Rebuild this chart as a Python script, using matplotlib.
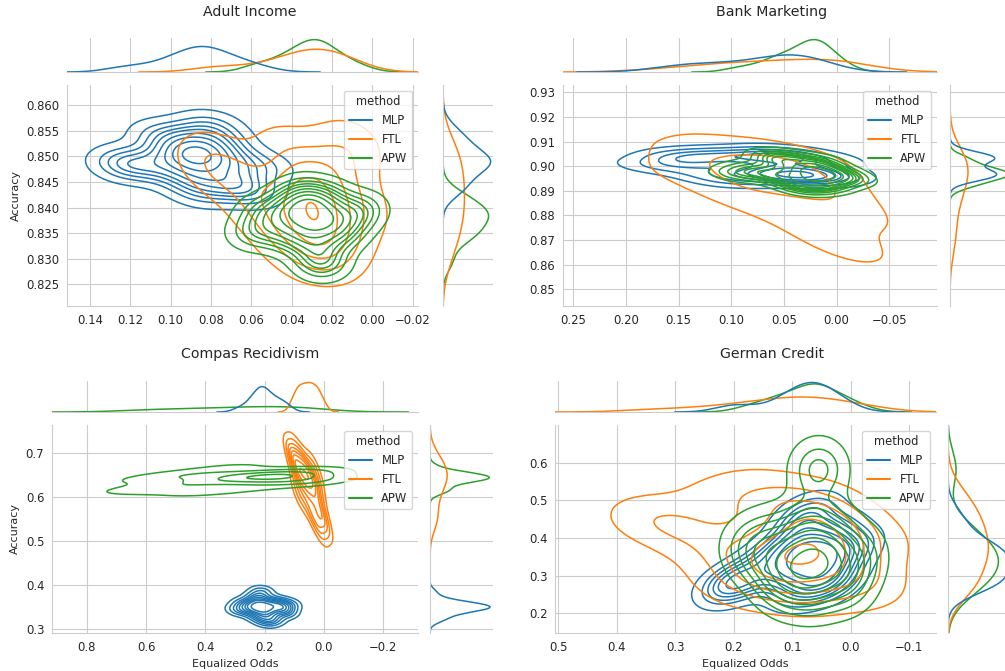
import numpy as np
import pandas as pd
import matplotlib
matplotlib.use("Agg")
import matplotlib.pyplot as plt
import seaborn as sns

methods = ["MLP", "FTL", "APW"]
colors = ["#1f77b4", "#ff7f0e", "#2ca02c"]

# (equalized odds, accuracy) per run
adult_mlp = [(0.085, 0.850), (0.088, 0.852), (0.080, 0.848), (0.092, 0.849), (0.078, 0.851), (0.083, 0.846),
             (0.090, 0.854), (0.075, 0.853), (0.070, 0.849), (0.095, 0.851), (0.100, 0.850), (0.065, 0.845),
             (0.060, 0.843), (0.110, 0.848), (0.120, 0.849), (0.125, 0.848), (0.105, 0.854), (0.080, 0.856),
             (0.072, 0.844), (0.086, 0.843), (0.055, 0.848), (0.095, 0.846)]
adult_ftl = [(0.082, 0.850), (0.078, 0.848), (0.065, 0.846), (0.060, 0.842), (0.050, 0.838), (0.045, 0.835),
             (0.040, 0.843), (0.035, 0.845), (0.033, 0.840), (0.030, 0.836), (0.028, 0.842), (0.025, 0.833),
             (0.022, 0.838), (0.020, 0.830), (0.018, 0.845), (0.015, 0.850), (0.010, 0.853), (0.005, 0.840),
             (0.035, 0.830), (0.045, 0.852), (0.030, 0.848), (0.015, 0.835)]
adult_apw = [(0.030, 0.838), (0.035, 0.839), (0.025, 0.837), (0.040, 0.838), (0.020, 0.839), (0.028, 0.841),
             (0.032, 0.835), (0.045, 0.840), (0.015, 0.836), (0.038, 0.842), (0.022, 0.842), (0.050, 0.836),
             (0.010, 0.838), (0.027, 0.830), (0.024, 0.829), (0.042, 0.834), (0.018, 0.834), (0.055, 0.839),
             (0.005, 0.840), (0.033, 0.843), (0.030, 0.833), (0.060, 0.835)]

bank_mlp = [(0.140, 0.903), (0.135, 0.904), (0.150, 0.902), (0.170, 0.900), (0.120, 0.897), (0.110, 0.905),
            (0.100, 0.894), (0.090, 0.903), (0.080, 0.897), (0.070, 0.904), (0.060, 0.896), (0.055, 0.899),
            (0.050, 0.903), (0.045, 0.895), (0.040, 0.897), (0.035, 0.904), (0.030, 0.896), (0.025, 0.898),
            (0.020, 0.895), (0.015, 0.902), (0.010, 0.897), (0.060, 0.906)]
bank_ftl = [(0.150, 0.905), (0.130, 0.900), (0.120, 0.908), (0.100, 0.895), (0.090, 0.902), (0.080, 0.890),
            (0.070, 0.899), (0.060, 0.905), (0.050, 0.893), (0.040, 0.900), (0.030, 0.888), (0.020, 0.897),
            (0.010, 0.892), (0.000, 0.902), (0.010, 0.873), (0.000, 0.870), (-0.020, 0.865), (-0.030, 0.878),
            (0.050, 0.880), (0.110, 0.888), (0.180, 0.898), (-0.010, 0.885)]
bank_apw = [(0.020, 0.897), (0.025, 0.898), (0.015, 0.896), (0.030, 0.899), (0.018, 0.900), (0.022, 0.894),
            (0.050, 0.897), (0.010, 0.898), (0.055, 0.901), (0.035, 0.895), (0.045, 0.903), (0.005, 0.894),
            (0.065, 0.896), (0.080, 0.899), (0.000, 0.897), (0.040, 0.893), (0.095, 0.897), (0.020, 0.902),
            (0.028, 0.891), (-0.010, 0.895), (0.060, 0.904), (0.012, 0.892)]

compas_mlp = [(0.21, 0.350), (0.22, 0.352), (0.20, 0.348), (0.23, 0.358), (0.19, 0.343), (0.24, 0.350),
              (0.18, 0.356), (0.25, 0.342), (0.21, 0.365), (0.20, 0.336), (0.15, 0.352), (0.14, 0.346),
              (0.16, 0.362), (0.13, 0.338), (0.27, 0.358), (0.22, 0.328), (0.23, 0.372), (0.17, 0.325),
              (0.29, 0.345), (0.12, 0.356), (0.21, 0.385), (0.19, 0.318)]
compas_ftl = [(0.065, 0.650), (0.080, 0.655), (0.050, 0.645), (0.090, 0.665), (0.040, 0.640), (0.100, 0.685),
              (0.060, 0.630), (0.105, 0.690), (0.030, 0.660), (0.080, 0.630), (0.070, 0.675), (0.045, 0.610),
              (0.085, 0.610), (0.020, 0.590), (0.050, 0.580), (0.010, 0.560), (0.030, 0.550), (0.000, 0.545),
              (0.015, 0.535), (0.055, 0.665), (0.025, 0.625), (0.090, 0.700)]
compas_apw = [(0.60, 0.640), (0.55, 0.620), (0.50, 0.650), (0.45, 0.630), (0.40, 0.655), (0.35, 0.640),
              (0.30, 0.645), (0.25, 0.650), (0.22, 0.642), (0.20, 0.652), (0.18, 0.638), (0.15, 0.645),
              (0.12, 0.650), (0.10, 0.640), (0.08, 0.660), (0.06, 0.632), (0.04, 0.655), (0.02, 0.640),
              (0.65, 0.615), (0.30, 0.670), (0.28, 0.618), (0.45, 0.608)]

german_mlp = [(0.07, 0.36), (0.06, 0.38), (0.08, 0.34), (0.05, 0.33), (0.09, 0.40), (0.04, 0.36),
              (0.10, 0.32), (0.03, 0.42), (0.06, 0.30), (0.11, 0.37), (0.02, 0.34), (0.08, 0.44),
              (0.12, 0.30), (0.05, 0.27), (0.14, 0.35), (0.00, 0.38), (0.20, 0.28), (0.21, 0.27),
              (0.18, 0.30), (0.07, 0.47), (0.03, 0.29), (0.09, 0.26)]
german_ftl = [(0.35, 0.45), (0.30, 0.44), (0.22, 0.50), (0.15, 0.53), (0.05, 0.50), (0.10, 0.42),
              (0.08, 0.35), (0.12, 0.30), (0.05, 0.28), (0.00, 0.33), (-0.03, 0.40), (0.15, 0.38),
              (0.18, 0.32), (0.02, 0.45), (0.06, 0.40), (0.10, 0.25), (-0.02, 0.27), (0.20, 0.27),
              (0.04, 0.36), (0.09, 0.47), (0.25, 0.38), (0.13, 0.35)]
german_apw = [(0.06, 0.34), (0.08, 0.36), (0.04, 0.32), (0.10, 0.38), (0.02, 0.35), (0.12, 0.33),
              (0.07, 0.30), (0.05, 0.40), (0.09, 0.28), (0.14, 0.41), (0.00, 0.30), (0.03, 0.42),
              (0.11, 0.27), (-0.02, 0.36), (0.16, 0.35), (0.06, 0.25), (0.08, 0.44), (0.13, 0.30),
              (0.05, 0.58), (0.06, 0.585), (0.18, 0.38), (0.01, 0.27)]

titles = ["Adult Income", "Bank Marketing", "Compas Recidivism", "German Credit"]
adult_xticks = [0.14, 0.12, 0.10, 0.08, 0.06, 0.04, 0.02, 0.00, -0.02]
adult_yticks = [0.825, 0.830, 0.835, 0.840, 0.845, 0.850, 0.855, 0.860]
bank_xticks = [0.25, 0.20, 0.15, 0.10, 0.05, 0.00, -0.05]
bank_yticks = [0.85, 0.86, 0.87, 0.88, 0.89, 0.90, 0.91, 0.92, 0.93]
compas_xticks = [0.8, 0.6, 0.4, 0.2, 0.0, -0.2]
compas_yticks = [0.3, 0.4, 0.5, 0.6, 0.7]
german_xticks = [0.5, 0.4, 0.3, 0.2, 0.1, 0.0, -0.1]
german_yticks = [0.2, 0.3, 0.4, 0.5, 0.6]

W, H = 1005, 671


def box(x0, y0, x1, y1):
    return [x0 / W, 1 - y1 / H, (x1 - x0) / W, (y1 - y0) / H]


def make_frame(groups):
    rows = []
    for m, pts in zip(methods, groups):
        for x, y in pts:
            rows.append((x, y, m))
    return pd.DataFrame(rows, columns=["eo", "acc", "method"])


sns.set_style("whitegrid")
plt.rcParams["font.family"] = ["DejaVu Sans"]
plt.rcParams["xtick.labelsize"] = 8.4
plt.rcParams["ytick.labelsize"] = 8.4
plt.rcParams["axes.labelsize"] = 8

fig = plt.figure(figsize=(W / 100, H / 100), dpi=100)

panels = [
    (titles[0], [adult_mlp, adult_ftl, adult_apw], (0.1514, -0.0226), (0.8208, 0.8639),
     adult_xticks, adult_yticks, (67, 38, 418, 72), (67, 85, 418, 306), (443, 85, 493, 306), 250, 12, False, True),
    (titles[1], [bank_mlp, bank_ftl, bank_apw], (0.2598, -0.0953), (0.8432, 0.933),
     bank_xticks, bank_yticks, (563, 38, 937, 72), (563, 85, 937, 306), (950, 85, 1012, 306), 772, 12, False, False),
    (titles[2], [compas_mlp, compas_ftl, compas_apw], (0.917, -0.317), (0.2916, 0.764),
     compas_xticks, compas_yticks, (52, 381, 418, 412), (52, 425, 418, 633), (430, 425, 493, 633), 250, 354, True, True),
    (titles[3], [german_mlp, german_ftl, german_apw], (0.5057, -0.1456), (0.1478, 0.70),
     german_xticks, german_yticks, (555, 381, 936, 412), (555, 425, 936, 633), (948, 425, 1012, 633), 772, 354, True, False),
]

for (title, groups, xlim, ylim, xt, yt, top_px, main_px, right_px,
     tx, ty, show_xlabel, show_ylabel) in panels:
    df = make_frame(groups)
    ax = fig.add_axes(box(*main_px))
    ax_top = fig.add_axes(box(*top_px))
    ax_right = fig.add_axes(box(*right_px))

    sns.kdeplot(data=df, x="eo", y="acc", hue="method", hue_order=methods,
                palette=colors, ax=ax, linewidths=1.1)
    sns.kdeplot(data=df, x="eo", hue="method", hue_order=methods,
                palette=colors, ax=ax_top, legend=False, linewidth=1.1)
    sns.kdeplot(data=df, y="acc", hue="method", hue_order=methods,
                palette=colors, ax=ax_right, legend=False, linewidth=1.1)

    ax.set_xticks(xt)
    ax.set_yticks(yt)
    ax.set_xlim(*xlim)
    ax.set_ylim(*ylim)
    ax.set_xlabel("Equalized Odds" if show_xlabel else "")
    ax.set_ylabel("Accuracy" if show_ylabel else "")
    ax.tick_params(pad=2)
    sns.despine(ax=ax)
    sns.move_legend(ax, "upper right", fontsize=8.3, title_fontsize=8.3, frameon=True)

    ax_top.set_xticks(xt)
    ax_top.set_xlim(*xlim)
    ax_top.set_ylim(bottom=0)
    ax_top.yaxis.grid(False)
    ax_top.tick_params(labelbottom=False, labelleft=False)
    ax_top.set_xlabel("")
    ax_top.set_ylabel("")
    sns.despine(ax=ax_top, left=True)

    ax_right.set_yticks(yt)
    ax_right.set_ylim(*ylim)
    ax_right.set_xlim(left=0)
    ax_right.xaxis.grid(False)
    ax_right.tick_params(labelbottom=False, labelleft=False)
    ax_right.set_xlabel("")
    ax_right.set_ylabel("")
    sns.despine(ax=ax_right, bottom=True)

    fig.text(tx / W, 1 - ty / H, title, ha="center", va="center", fontsize=10.2, color="#262626")

fig.savefig("out.png", dpi=100)
